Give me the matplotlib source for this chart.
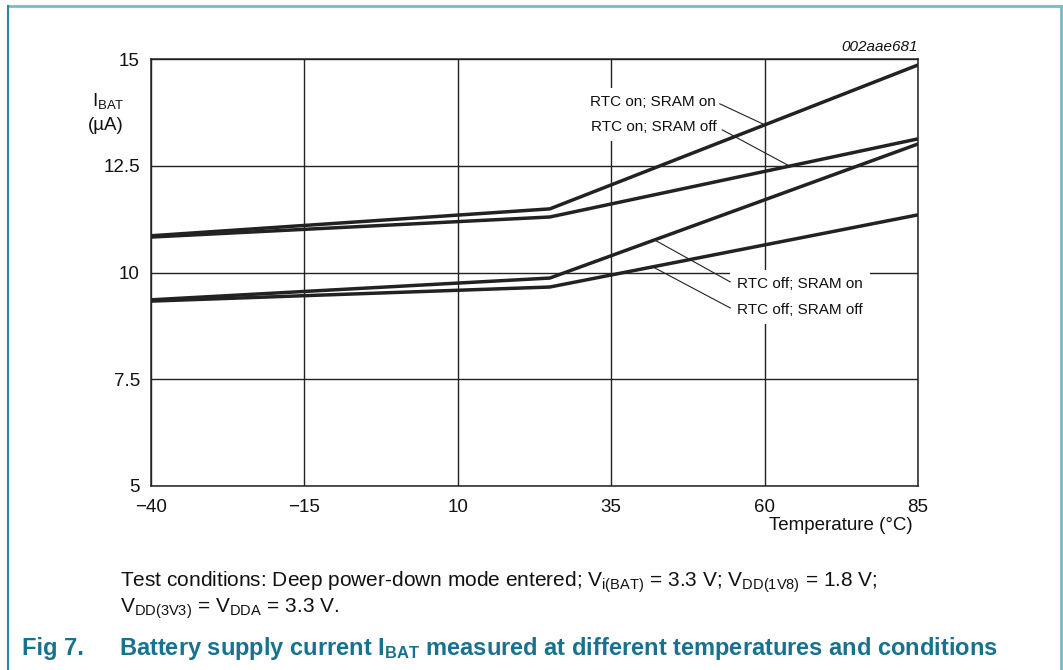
import matplotlib
matplotlib.use("Agg")
import matplotlib.pyplot as plt
from matplotlib.lines import Line2D

plt.rcParams['font.family'] = ['Liberation Sans', 'DejaVu Sans']
plt.rcParams['mathtext.fontset'] = 'custom'
plt.rcParams['mathtext.rm'] = 'Liberation Sans'
plt.rcParams['mathtext.it'] = 'Liberation Sans:italic'
plt.rcParams['mathtext.bf'] = 'Liberation Sans:bold'

# ---- data ----
temperature = [-40, 25, 85]
rtc_on_sram_on = [10.86, 11.49, 14.86]
rtc_on_sram_off = [10.83, 11.30, 13.13]
rtc_off_sram_on = [9.36, 9.87, 13.01]
rtc_off_sram_off = [9.33, 9.66, 11.35]

x_ticks = [-40, -15, 10, 35, 60, 85]
x_tick_labels = ['\u221240', '\u221215', '10', '35', '60', '85']
y_ticks = [5, 7.5, 10, 12.5, 15]
y_tick_labels = ['5', '7.5', '10', '12.5', '15']

W, H = 1063, 670
fig = plt.figure(figsize=(W / 100, H / 100), dpi=100)
ax = fig.add_axes([151 / W, 1 - 486 / H, (918 - 151) / W, (486 - 59) / H])

ax.set_xlim(-40, 85)
ax.set_ylim(5, 15)
ax.set_xticks(x_ticks)
ax.set_xticklabels(x_tick_labels)
ax.set_yticks(y_ticks)
ax.set_yticklabels(y_tick_labels)
ax.tick_params(length=0, labelsize=13.5, colors='#111111')
ax.tick_params(axis='x', pad=9)
ax.tick_params(axis='y', pad=8)
ax.grid(True, color='#222222', linewidth=1.0, zorder=0)
for s in ax.spines.values():
    s.set_color('#222222')
    s.set_linewidth(1.1)

lc = '#222222'
for series in [rtc_on_sram_on, rtc_on_sram_off, rtc_off_sram_on, rtc_off_sram_off]:
    ax.plot(temperature, series, color=lc, linewidth=2.5, zorder=5, solid_capstyle='butt')

# labels (white boxes break the grid) and leader lines
bb = dict(boxstyle='square,pad=0.45', facecolor='white', edgecolor='none')
labels = [
    ('RTC on; SRAM on', (52.1, 13.99), 'right', (52.7, 13.95), (60.0, 13.46)),
    ('RTC on; SRAM off', (52.2, 13.41), 'right', (53.1, 13.34), (64.1, 12.49)),
    ('RTC off; SRAM on', (55.5, 9.73), 'left', (54.4, 9.78), (42.1, 10.76)),
    ('RTC off; SRAM off', (55.5, 9.12), 'left', (54.4, 9.17), (41.8, 10.13)),
]
for txt, pos, ha, p0, p1 in labels:
    ax.text(pos[0], pos[1], txt, ha=ha, va='center', fontsize=11, bbox=bb, zorder=2, color='#111111')
    ax.plot([p0[0], p1[0]], [p0[1], p1[1]], color='#222222', linewidth=0.8, zorder=4)

def fx(px):
    return px / W

def fy(py):
    return 1 - py / H

fig.text(fx(918), fy(47), '002aae681', ha='right', va='center', fontsize=11, style='italic', color='#111111')
fig.text(fx(92), fy(101), r'$\mathrm{I}_{\mathrm{BAT}}$', ha='left', va='center', fontsize=13.5, color='#111111')
fig.text(fx(88), fy(126), '(\u00b5A)', ha='left', va='center', fontsize=13.5, color='#111111')
fig.text(fx(913), fy(525), 'Temperature (\u00b0C)', ha='right', va='center', fontsize=13.5, color='#111111')

fig.text(fx(120), fy(582), r'Test conditions: Deep power-down mode entered; V$_{\mathrm{i(BAT)}}$ = 3.3 V; V$_{\mathrm{DD(1V8)}}$ = 1.8 V;',
         ha='left', va='center', fontsize=15, color='#111111')
fig.text(fx(120), fy(609), r'V$_{\mathrm{DD(3V3)}}$ = V$_{\mathrm{DDA}}$ = 3.3 V.',
         ha='left', va='center', fontsize=15, color='#111111')

tc = '#18728f'
fig.text(fx(22), fy(649), 'Fig 7.', ha='left', va='center', fontsize=17, fontweight='bold', color=tc)
fig.text(fx(119), fy(649), r'Battery supply current I$_{\mathbf{BAT}}$ measured at different temperatures and conditions',
         ha='left', va='center', fontsize=17, fontweight='bold', color=tc)

# frame
fig.add_artist(Line2D([fx(8), fx(1061)], [fy(6), fy(6)], color='#7ab9c9', linewidth=2))
fig.add_artist(Line2D([fx(8), fx(8)], [fy(6), fy(670)], color='#2a88a3', linewidth=1.5))
fig.add_artist(Line2D([fx(1061), fx(1061)], [fy(6), fy(670)], color='#7ab9c9', linewidth=2))

fig.savefig('out.png', dpi=100)
